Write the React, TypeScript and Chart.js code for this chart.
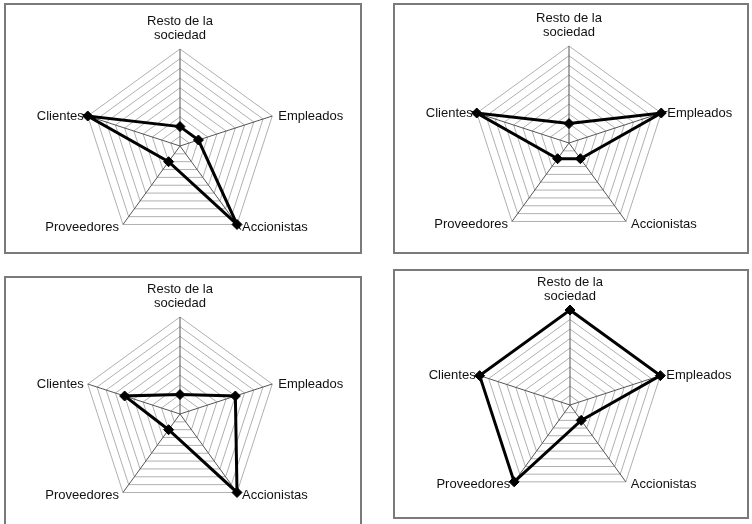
import { useEffect, useRef } from 'react';
import { Chart, registerables } from 'chart.js';

Chart.register(...registerables);

// ---- data ----
const categories: (string | string[])[] = [
  ['Resto de la', 'sociedad'],
  'Empleados',
  'Accionistas',
  'Proveedores',
  'Clientes',
];
const valuesTopLeft = [2, 2, 10, 2, 10];
const valuesTopRight = [2, 10, 2, 2, 10];
const valuesBottomLeft = [2, 6, 10, 2, 6];
const valuesBottomRight = [10, 10, 2, 10, 10];
const scaleMin = 0;
const scaleMax = 10;
const scaleStep = 1;

// ---- layout (page coords) ----
type PanelCfg = {
  values: number[];
  x: number; y: number; w: number; h: number;
  cx: number; cy: number; r: number;
  noBottom?: boolean;
};
const panels: PanelCfg[] = [
  { values: valuesTopLeft, x: 4, y: 3, w: 358, h: 251, cx: 180, cy: 146, r: 97 },
  { values: valuesTopRight, x: 393, y: 3, w: 356, h: 251, cx: 569, cy: 143, r: 97 },
  { values: valuesBottomLeft, x: 4, y: 276, w: 358, h: 248, cx: 180, cy: 414, r: 97, noBottom: true },
  { values: valuesBottomRight, x: 393, y: 269, w: 356, h: 250, cx: 570, cy: 405, r: 95 },
];

const FONT = '13px "Liberation Sans", Arial, sans-serif';

const labelPlugin = {
  id: 'excelLabels',
  beforeDatasetsDraw(chart: any) {
    const scale = chart.scales.r;
    const ctx: CanvasRenderingContext2D = chart.ctx;
    ctx.save();
    ctx.font = FONT;
    ctx.fillStyle = '#111';
    ctx.textBaseline = 'middle';
    const labels = chart.data.labels as (string | string[])[];
    labels.forEach((lab, i) => {
      const p = scale.getPointPosition(i, scale.drawingArea);
      const dx = p.x - scale.xCenter;
      const dy = p.y - scale.yCenter;
      const lines = Array.isArray(lab) ? lab : [lab];
      if (Math.abs(dx) < 1) {
        ctx.textAlign = 'center';
        lines.forEach((ln, k) => {
          ctx.fillText(ln, p.x, p.y - 14 - (lines.length - 1 - k) * 13.5);
        });
      } else {
        const yOff = dy > 0 ? 3 : 0;
        if (dx > 0) {
          ctx.textAlign = 'left';
          ctx.fillText(lines.join(' '), p.x + (dy > 0 ? 5 : 6), p.y + yOff);
        } else {
          ctx.textAlign = 'right';
          ctx.fillText(lines.join(' '), p.x - 4, p.y + yOff);
        }
      }
    });
    ctx.restore();
  },
};

function Panel({ cfg }: { cfg: PanelCfg }) {
  const ref = useRef<HTMLCanvasElement>(null);
  useEffect(() => {
    if (!ref.current) return;
    const ox = cfg.cx - cfg.x;
    const oy = cfg.cy - cfg.y;
    const chart = new Chart(ref.current, {
      type: 'radar',
      data: {
        labels: categories as any,
        datasets: [
          {
            data: cfg.values,
            borderColor: '#000',
            borderWidth: 3,
            fill: false,
            pointStyle: 'rectRot',
            pointRadius: 5,
            pointBackgroundColor: '#000',
            pointBorderColor: '#000',
            pointBorderWidth: 1,
            tension: 0,
          },
        ],
      },
      options: {
        responsive: false,
        animation: false,
        events: [],
        layout: {
          padding: {
            left: ox - cfg.r,
            right: cfg.w - ox - cfg.r,
            top: oy - cfg.r,
            bottom: cfg.h - oy - cfg.r,
          },
        },
        plugins: {
          legend: { display: false },
          tooltip: { enabled: false },
        },
        scales: {
          r: {
            min: scaleMin,
            max: scaleMax,
            beginAtZero: true,
            ticks: { display: false, stepSize: scaleStep },
            pointLabels: { display: false },
            grid: { color: '#b0b0b0', lineWidth: 1, circular: false },
            angleLines: { color: '#555', lineWidth: 1 },
          },
        },
      },
      plugins: [labelPlugin],
    });
    return () => chart.destroy();
  }, [cfg]);
  return (
    <>
      <div
        style={{
          position: 'absolute',
          left: cfg.x,
          top: cfg.y,
          width: cfg.w,
          height: cfg.h,
          boxSizing: 'border-box',
          border: '2px solid #7a7a7a',
          borderBottom: cfg.noBottom ? 'none' : '2px solid #7a7a7a',
        }}
      />
      <canvas
        ref={ref}
        width={cfg.w}
        height={cfg.h}
        style={{ position: 'absolute', left: cfg.x, top: cfg.y, width: cfg.w, height: cfg.h }}
      />
    </>
  );
}

export default function App() {
  return (
    <div style={{ position: 'absolute', left: 0, top: 0, width: 752, height: 524, overflow: 'hidden' }}>
      {panels.map((p, i) => (
        <Panel key={i} cfg={p} />
      ))}
    </div>
  );
}
